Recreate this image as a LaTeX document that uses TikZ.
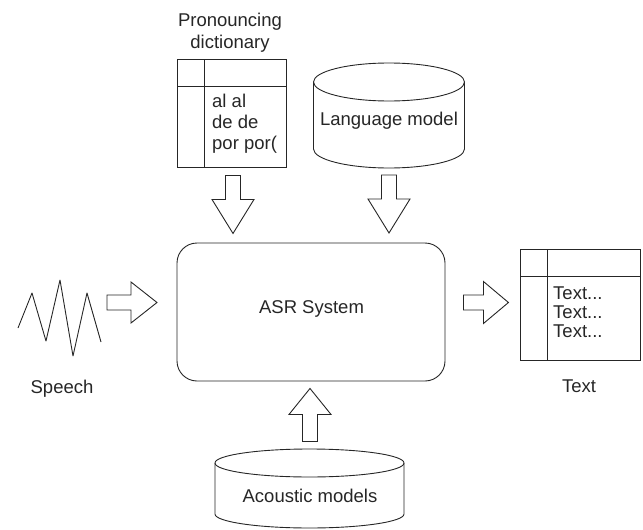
\documentclass[tikz,border=0pt]{standalone}
\usepackage{fontspec}
\setmainfont{Liberation Sans}
\begin{document}
\begin{tikzpicture}[x=1pt,y=1pt,
  lbl/.style={inner sep=0pt,font=\fontsize{18.5}{21}\selectfont,text=black!85},
  frame/.style={draw=black!85,line width=0.9pt},
  pics/barrow/.style args={#1/#2/#3}{code={\draw[frame,line join=miter] (0,-7.5) -- (#2,-7.5) -- (#2,-#3) -- (#1,0) -- (#2,#3) -- (#2,7.5) -- (0,7.5) -- cycle;}}]
\useasboundingbox (0,0) rectangle (643,-530);

% Pronouncing dictionary
\node[lbl,anchor=base] (pd1) at (230,-27) {Pronouncing};
\node[lbl,anchor=base] (pd2) at (230,-48) {dictionary};
\node[frame,minimum width=109,minimum height=108,inner sep=0pt] (dict) at (231.5,-113) {};
\draw[frame] (204,-59) -- (204,-167);
\draw[frame] (177,-86) -- (286,-86);
\node[lbl,anchor=base west] (d1) at (212,-107) {al al};
\node[lbl,anchor=base west] (d2) at (212,-128) {de de};
\node[lbl,anchor=base west] (d3) at (212,-149) {por por(};

% Language model cylinder
\coordinate (lmc) at (389,-82);
\draw[frame] (313.5,-82) -- (313.5,-149) arc[start angle=180,end angle=360,x radius=75.5,y radius=19] -- (464.5,-82);
\draw[frame] (lmc) ellipse[x radius=75.5,y radius=19];
\node[lbl,anchor=base] (lm) at (389,-125) {Language model};

% ASR system
\node[frame,rounded corners=20pt,minimum width=268,minimum height=138,inner sep=0pt] (asr) at (311,-312) {};
\node[lbl,anchor=base] (asrt) at (311.5,-313) {ASR System};

% Speech
\draw[frame,line join=round] (18,-328) -- (32,-293) -- (46,-341) -- (60,-280) -- (73,-356) -- (87,-293) -- (101,-342);
\coordinate (wave) at (60,-318);
\node[lbl,anchor=base] (speech) at (62,-393) {Speech};

% Text output table
\node[frame,minimum width=120,minimum height=111,inner sep=0pt] (out) at (580,-304.5) {};
\draw[frame] (547,-249) -- (547,-360);
\draw[frame] (520,-276) -- (640,-276);
\node[lbl,anchor=base west] (t1) at (553,-299) {Text...};
\node[lbl,anchor=base west] (t2) at (553,-318) {Text...};
\node[lbl,anchor=base west] (t3) at (553,-337) {Text...};
\node[lbl,anchor=base] (textlbl) at (579,-392) {Text};

% Acoustic models cylinder
\coordinate (amc) at (309.5,-463);
\draw[frame] (215,-463) -- (215,-514) arc[start angle=180,end angle=360,x radius=94.5,y radius=14] -- (404,-463);
\draw[frame] (amc) ellipse[x radius=94.5,y radius=14];
\node[lbl,anchor=base] (am) at (310,-502) {Acoustic models};

% Block arrows
\pic[rotate=-90] at ([xshift=1.5pt,yshift=-8pt]dict.south) {barrow={58/24/21}};
\pic[rotate=-90] at (389,-175) {barrow={58/24/21}};
\pic[rotate=90] at ([yshift=-60pt]asr.south-|310,0) {barrow={53/27/21}};
\pic at (107,-302.5) {barrow={50/24/20.5}};
\pic at ([xshift=18pt,yshift=9.5pt]asr.east) {barrow={45/20/21}};
\end{tikzpicture}
\end{document}
